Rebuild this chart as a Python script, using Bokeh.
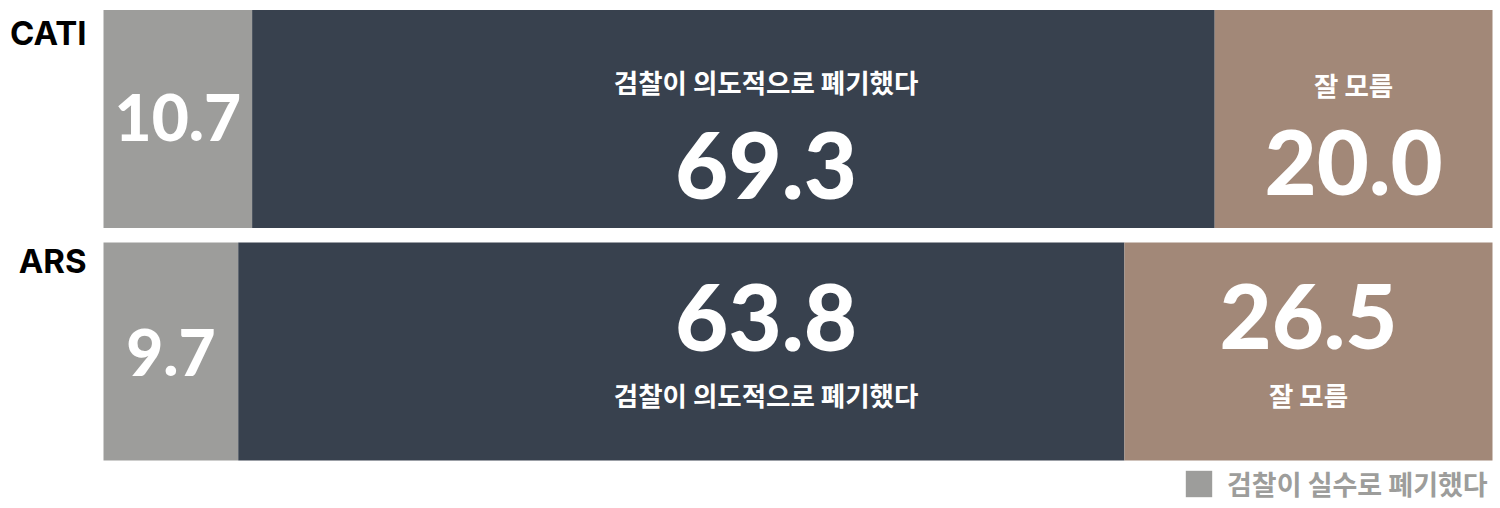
from bokeh.plotting import figure
from bokeh.models import ColumnDataSource, Range1d, Legend, LegendItem
from bokeh.core.properties import value
from bokeh.embed import file_html
from bokeh.resources import INLINE

# ---- data ----
rows = ["CATI", "ARS"]
mistake = [10.7, 9.7]        # 검찰이 실수로 폐기했다
intentional = [69.3, 63.8]   # 검찰이 의도적으로 폐기했다
unknown = [20.0, 26.5]       # 잘 모름
label_mistake = "검찰이 실수로 폐기했다"
label_intentional = "검찰이 의도적으로 폐기했다"
label_unknown = "잘 모름"

# ---- style / layout ----
GRAY, DARK, TAN = "#9d9d9b", "#38414e", "#a28878"
W, H = 1500, 508
PX_X = 13.89           # px per percent
PX_Y = 232.5           # px per row
X0 = -103 / PX_X
X1 = X0 + W / PX_X
Y_TOP = -118.5 / PX_Y
Y_BOTTOM = Y_TOP + H / PX_Y
BAR_H = 218 / PX_Y
MID_X = 47.7           # x of the centre labels in the dark segment
ROW_LABEL_X = -1.22
NUM_FONT = value("Lato Black")
KR_FONT = value("Noto Sans CJK KR")

p = figure(width=W, height=H, output_backend="svg", toolbar_location=None,
           x_range=Range1d(X0, X1), y_range=Range1d(Y_BOTTOM, Y_TOP),
           x_axis_type=None, y_axis_type=None,
           min_border=0, min_border_left=0, min_border_right=0,
           min_border_top=0, min_border_bottom=0)
p.grid.visible = False
p.outline_line_color = None
p.background_fill_color = "white"
p.border_fill_color = "white"

ys = list(range(len(rows)))
src = ColumnDataSource(dict(y=ys, mistake=mistake, intentional=intentional, unknown=unknown))
rs = p.hbar_stack(["mistake", "intentional", "unknown"], y="y", height=BAR_H,
                  color=[GRAY, DARK, TAN], line_color=None, source=src)

# gray values
g_src = ColumnDataSource(dict(x=[m / 2 for m in mistake], y=ys,
                              t=[f"{m:.1f}" for m in mistake], dy=[-2, 0.5]))
p.text(x="x", y="y", text="t", y_offset="dy", source=g_src, text_color="white",
       text_font=NUM_FONT, text_font_style="bold", text_font_size="64px",
       text_align="center", text_baseline="alphabetic")

# dark values + labels
d_src = ColumnDataSource(dict(x=[MID_X] * len(rows), y=ys,
                              t=[f"{v:.1f}" for v in intentional], dy=[46, -34.5]))
p.text(x="x", y="y", text="t", y_offset="dy", source=d_src, text_color="white",
       text_font=NUM_FONT, text_font_style="bold", text_font_size="92px",
       text_align="center", text_baseline="alphabetic")
dl_src = ColumnDataSource(dict(x=[MID_X] * len(rows), y=ys,
                               t=[label_intentional] * len(rows), dy=[-38, 43]))
p.text(x="x", y="y", text="t", y_offset="dy", source=dl_src, text_color="white",
       text_font=KR_FONT, text_font_style="bold", text_font_size="26.5px",
       text_align="center", text_baseline="middle")

# tan values + labels
tan_x = [m + i + u / 2 for m, i, u in zip(mistake, intentional, unknown)]
t_src = ColumnDataSource(dict(x=tan_x, y=ys, t=[f"{v:.1f}" for v in unknown], dy=[43, -35.5]))
p.text(x="x", y="y", text="t", y_offset="dy", source=t_src, text_color="white",
       text_font=NUM_FONT, text_font_style="bold", text_font_size="90px",
       text_align="center", text_baseline="alphabetic")
tl_src = ColumnDataSource(dict(x=tan_x, y=ys, t=[label_unknown] * len(rows), dy=[-35, 42.5]))
p.text(x="x", y="y", text="t", y_offset="dy", source=tl_src, text_color="white",
       text_font=KR_FONT, text_font_style="bold", text_font_size="26.5px",
       text_align="center", text_baseline="middle")

# row labels
r_src = ColumnDataSource(dict(x=[ROW_LABEL_X] * len(rows), y=ys, t=rows, dy=[-86, -91]))
p.text(x="x", y="y", text="t", y_offset="dy", source=r_src, text_color="black",
       text_font=value("Inter"), text_font_style="bold", text_font_size="33px",
       text_align="right", text_baseline="alphabetic")

legend = Legend(items=[LegendItem(label=label_mistake, renderers=[rs[0]])],
                location=(1182, 5), orientation="horizontal",
                padding=0, margin=0, spacing=0, border_line_color=None,
                background_fill_alpha=0, glyph_width=33, glyph_height=33,
                label_height=33, label_standoff=12, label_text_font_size="27px",
                label_text_color=GRAY, label_text_font="Noto Sans CJK KR",
                label_text_font_style="bold", label_text_baseline="middle")
p.add_layout(legend)

open("out.html", "w").write(file_html(p, INLINE))
